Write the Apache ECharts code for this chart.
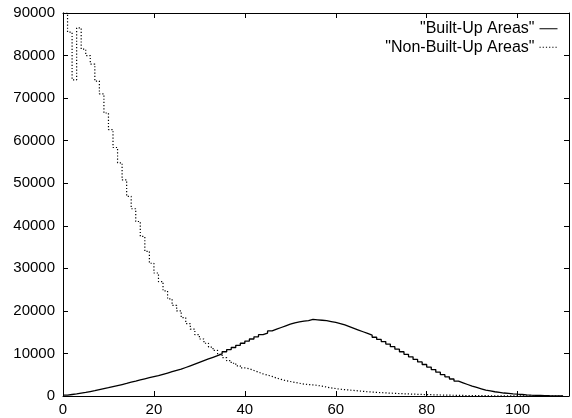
<!DOCTYPE html>
<html>
<head>
<meta charset="utf-8">
<script src="https://cdn.jsdelivr.net/npm/echarts@6/dist/echarts.min.js"></script>
<style>html,body{margin:0;padding:0;background:#fff;}#c{width:572px;height:418px;}</style>
</head>
<body>
<div id="c"></div>
<script>
var seriesNames = ['"Built-Up Areas"', '"Non-Built-Up Areas"'];
var xTicks = [0, 20, 40, 60, 80, 100];
var yTicks = [0, 10000, 20000, 30000, 40000, 50000, 60000, 70000, 80000, 90000];
// bin start positions 0..110
var builtUp = [200,350,500,700,850,1050,1250,1500,1750,1950,
  2200,2450,2700,2950,3250,3500,3800,4050,4300,4550,
  4800,5100,5400,5700,6000,6300,6700,7100,7500,7900,
  8300,8700,9100,9500,9900,10400,10900,11400,11900,12400,
  12900,13400,13900,14400,14800,15300,15700,16100,16500,16900,
  17200,17400,17600,17700,18000,17900,17800,17700,17500,17300,
  17000,16700,16300,15900,15500,15100,14700,14300,13800,13300,
  12800,12200,11600,11000,10400,9800,9200,8600,8000,7400,
  6800,6200,5600,5000,4500,4000,3500,3100,2700,2300,
  2000,1700,1400,1200,1000,850,700,600,500,420,
  350,280,220,170,130,90,60,40,25,15,10];
var nonBuiltUp = [90000,85500,74300,86500,81500,80000,78000,74000,71000,66500,
  62600,58400,54800,50800,46900,44000,41000,37500,34000,31200,
  28900,26900,24700,22800,21300,20000,18400,17000,15700,14400,
  13400,12400,11500,10700,9800,9000,8300,7700,7100,6600,
  6400,6000,5600,5200,4900,4600,4200,3900,3600,3400,
  3200,3000,2800,2700,2600,2500,2300,2100,1900,1750,
  1600,1500,1400,1300,1200,1100,1000,930,860,790,
  730,670,620,570,520,480,440,400,360,330,
  300,270,240,210,190,170,150,130,110,100,
  90,80,70,60,50,40,35,30,25,20,
  15,12,10,8,6,5,4,3,2,1,0];

function pairs(arr){ return arr.map(function(v,i){ return [i, v]; }); }

var chart = echarts.init(document.getElementById('c'), null, {renderer:'canvas'});
var font = 'Liberation Sans, Arial, Helvetica, sans-serif';
var axisLineStyle = {color:'#000', width:1};
function xAx(pos, showLabel){
  return {type:'value', position:pos, min:0, max:111.3, interval:20,
    axisLine:{show:true, onZero:false, lineStyle:axisLineStyle},
    axisTick:{show:true, inside:true, length:5, lineStyle:axisLineStyle},
    axisLabel:{show:showLabel, color:'#000', fontSize:15, fontFamily:font, margin:6,
      formatter:function(v){return xTicks.indexOf(v)>=0? String(v):'';}},
    splitLine:{show:false}};
}
function yAx(pos, showLabel){
  return {type:'value', position:pos, min:0, max:90000, interval:10000,
    axisLine:{show:true, onZero:false, lineStyle:axisLineStyle},
    axisTick:{show:true, inside:true, length:5, lineStyle:axisLineStyle},
    axisLabel:{show:showLabel, color:'#000', fontSize:15, fontFamily:font, margin:8,
      formatter:function(v){return yTicks.indexOf(v)>=0? String(v):'';}},
    splitLine:{show:false}};
}
chart.setOption({
  animation:false,
  backgroundColor:'#fff',
  grid:{left:63, right:1, top:13, bottom:22, containLabel:false},
  xAxis:[xAx('bottom', true), xAx('top', false)],
  yAxis:[yAx('left', true), yAx('right', false)],
  legend:{orient:'vertical', right:9, top:15, align:'right', itemWidth:18, itemHeight:12, itemGap:1,
    itemStyle:{opacity:0},
    lineStyle:{width:1},
    textStyle:{color:'#000', fontSize:16, fontFamily:font, lineHeight:17.5},
    data:[{name:seriesNames[0]},{name:seriesNames[1]}]},
  series:[
    {name:seriesNames[0], type:'line', step:'end', xAxisIndex:0, yAxisIndex:0,
      showSymbol:false, symbol:'none', data:pairs(builtUp),
      lineStyle:{color:'#000', width:1.3, type:'solid'}, itemStyle:{color:'#000'}},
    {name:seriesNames[1], type:'line', step:'end', xAxisIndex:0, yAxisIndex:0,
      showSymbol:false, symbol:'none', data:pairs(nonBuiltUp),
      lineStyle:{color:'#000', width:1.2, type:[1.2,2]}, itemStyle:{color:'#000'}}
  ]
});
</script>
</body>
</html>
